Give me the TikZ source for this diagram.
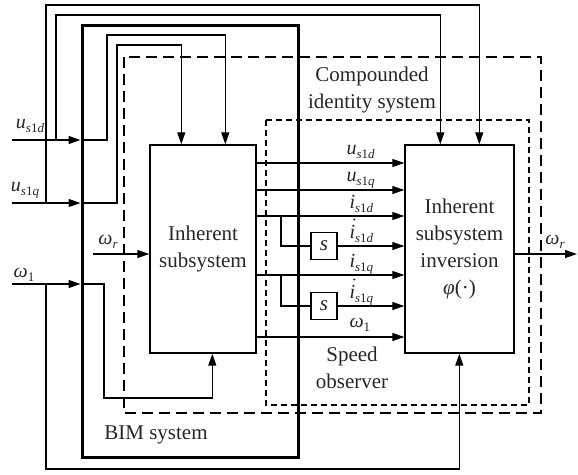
\documentclass[tikz,border=0pt]{standalone}
\usepackage{fontspec}
\setmainfont{Liberation Serif}
\usetikzlibrary{arrows.meta}
% subscripts and signal names
\newcommand{\sbs}[1]{\raisebox{-4pt}{\fontsize{13}{13}\selectfont #1}}
\newcommand{\sld}{\sbs{\textit{s}1\textit{d}}}
\newcommand{\slq}{\sbs{\textit{s}1\textit{q}}}
\begin{document}
\begin{tikzpicture}[x=1pt,y=-1pt,line width=1.2pt,
  every node/.style={font=\rmfamily\fontsize{21}{27}\selectfont,text=black!85},
  arr/.style={-{Triangle[length=12pt,width=8pt]}},
  blk/.style={draw,line width=1.4pt,inner sep=0pt,align=center},
  lbl/.style={inner sep=0pt},
  slbl/.style={inner sep=0pt,anchor=base,font=\rmfamily\fontsize{20}{24}\selectfont},
  rlbl/.style={slbl,anchor=base west},
  sbox/.style={draw,line width=1.2pt,inner sep=0pt,minimum width=26pt,minimum height=27pt}]
\useasboundingbox (0,0) rectangle (578,474);

% enclosing dashed frames
\draw[line width=2pt,dash pattern=on 11pt off 6pt] (124,57) rectangle (541,413);
\draw[line width=1.3pt,dash pattern=on 6pt off 4pt] (266,120) rectangle (529,405);

% blocks
\node[draw,line width=3pt,inner sep=0pt,minimum width=216pt,minimum height=432pt] (bim) at (190,241) {};
\node[blk,minimum width=106pt,minimum height=208pt] (inh) at (203,249) {Inherent\\subsystem};
\node[blk,minimum width=109pt,minimum height=208pt] (inv) at (459.5,249) {Inherent\\subsystem\\inversion\\\textit{φ}(·)};
\node[sbox] (s1) at (324,246) {\textit{s}};
\node[sbox] (s2) at (324,306) {\textit{s}};

% frame captions
\node[lbl,align=center] at (372,90) {Compounded\\identity system};
\node[lbl,align=center] at (352,368) {Speed\\observer};
\node[lbl] at (156,435) {BIM system};

% external inputs
\coordinate (usdIn) at (12,140);
\coordinate (usqIn) at (12,203);
\coordinate (w1In) at (12,284);
\coordinate (wrIn) at (93,254);
\coordinate (jd) at (56,140);
\coordinate (jq) at (46,203);
\coordinate (jw) at (46,284);

\draw[arr] (usdIn) -- (bim.west |- usdIn);
\draw[arr] (usqIn) -- (bim.west |- usqIn);
\draw[arr] (w1In) -- (bim.west |- w1In);
\node[slbl] at (30,128) {\textit{u}\sld};
\node[slbl] at (25,191) {\textit{u}\slq};
\node[slbl] at (24,277) {\textit{ω}\sbs{1}};

% feed into the inherent subsystem
\draw[arr] (bim.west |- usdIn) -| (107,35) -| ([xshift=76pt]inh.north west);
\draw[arr] (bim.west |- usqIn) -| (117,45) -| ([xshift=32pt]inh.north west);
\draw[arr] (bim.west |- w1In) -| (104,398) -| ([xshift=63pt]inh.south west);
\draw[arr] (wrIn) -- (inh.west |- wrIn);
\node[slbl] at (108,244) {\textit{ω}\sbs{\textit{r}}};

% feed-forward into the inversion
\draw[arr] (jd) -- (56,15) -| ([xshift=36pt]inv.north west);
\draw[arr] (jq) -- (46,5) -| ([xshift=75pt]inv.north west);
\draw[arr] (jw) -- (46,469) -| ([xshift=55pt]inv.south west);

% speed observer signals
\draw[arr] (inh.east |- 0,163) -- (inv.west |- 0,163);
\draw[arr] (inh.east |- 0,190) -- (inv.west |- 0,190);
\draw[arr] (inh.east |- 0,216) -- (inv.west |- 0,216);
\draw[arr] (inh.east |- 0,275) -- (inv.west |- 0,275);
\draw[arr] (inh.east |- 0,337) -- (inv.west |- 0,337);
\coordinate (b1) at (281,216);
\coordinate (b2) at (281,275);
\draw (b1) |- (s1.west);
\draw (b2) |- (s2.west);
\draw[arr] (s1.east) -- (inv.west |- s1.east);
\draw[arr] (s2.east) -- (inv.west |- s2.east);

\node[rlbl] at (346,154) {\textit{u}\sld};
\node[rlbl] at (346,181) {\textit{u}\slq};
\node[rlbl] at (349,208) {\textit{i}\sld};
\node[rlbl] (di1) at (349,238) {\textit{i}\sld};
\node[rlbl] at (349,267) {\textit{i}\slq};
\node[rlbl] (di2) at (349,298) {\textit{i}\slq};
\node[rlbl] at (349,327) {\textit{ω}\sbs{1}};
% time-derivative marks over the current symbols
\fill[black!85] ([xshift=5.2pt,yshift=18.5pt]di1.base west) circle (1.15pt);
\fill[black!85] ([xshift=5.2pt,yshift=18.5pt]di2.base west) circle (1.15pt);

% estimated speed output
\coordinate (wrOut) at (577,254);
\draw[arr] (inv.east |- wrOut) -- (wrOut);
\node[slbl] at (555,244) {\textit{ω}\sbs{\textit{r}}};
\end{tikzpicture}
\end{document}
